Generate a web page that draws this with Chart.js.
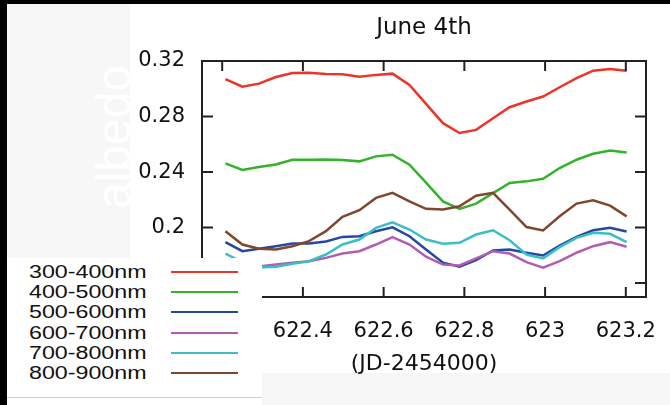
<!DOCTYPE html>
<html>
<head>
<meta charset="utf-8">
<script src="https://cdn.jsdelivr.net/npm/chart.js@4"></script>
<style>
  body { margin: 0; background: #fff; }
  #hoja { position: relative; width: 670px; height: 405px; overflow: hidden; background: #fff; }
  .caja { position: absolute; }
  #grafico { position: absolute; left: 0; top: 0; }
  #albedo { position: absolute; left: 35px; top: 113px; width: 150px; height: 48px; line-height: 48px;
    text-align: center; font: 48px "Liberation Sans", Arial, sans-serif; color: #fff; transform: rotate(-90deg); }
  #leyenda { position: absolute; left: 7px; top: 258px; width: 255px; height: 139px; background: #fff;
    border-bottom: 1px solid #cfcfcf; }
  .fila { position: absolute; left: 0; height: 20px; line-height: 20px; width: 255px; }
  .fila span { position: absolute; left: 22px; font: 18px "Liberation Sans", Arial, sans-serif; color: #111;
    transform: scaleX(1.29); transform-origin: left center; }
  .fila i { position: absolute; left: 164px; top: 9px; width: 67px; height: 2px; }
</style>
</head>
<body>
<div id="hoja">
  <div class="caja" style="left:7px;top:4px;width:123px;height:254px;background:#f7f7f7"></div>
  <div id="albedo">albedo</div>
  <div class="caja" style="left:262px;top:373px;width:408px;height:32px;background:#f6f6f6"></div>
  <canvas id="grafico" width="670" height="405"></canvas>
  <div id="leyenda"></div>
  <div class="caja" style="left:0;top:0;width:670px;height:4px;background:#000"></div>
  <div class="caja" style="left:0;top:0;width:7px;height:405px;background:#000"></div>
</div>
<script>
const tiempos = [622.208, 622.250, 622.291, 622.333, 622.374, 622.415, 622.457, 622.498, 622.540, 622.581,
  622.622, 622.664, 622.705, 622.747, 622.788, 622.829, 622.871, 622.912, 622.954, 622.995,
  623.036, 623.078, 623.119, 623.161, 623.202]

const banda300 = [0.3069, 0.3015, 0.3037, 0.3085, 0.3114, 0.3116, 0.3107, 0.3105, 0.3087, 0.3100,
  0.3109, 0.3028, 0.2891, 0.2752, 0.2681, 0.2704, 0.2788, 0.2867, 0.2908, 0.2944,
  0.3011, 0.3076, 0.3130, 0.3143, 0.3130]
const banda400 = [0.2462, 0.2415, 0.2436, 0.2455, 0.2489, 0.2489, 0.2491, 0.2487, 0.2477, 0.2513,
  0.2525, 0.2453, 0.2324, 0.2189, 0.2135, 0.2173, 0.2248, 0.2321, 0.2333, 0.2352,
  0.2429, 0.2489, 0.2532, 0.2556, 0.2541]
const banda500 = [0.1895, 0.1830, 0.1847, 0.1866, 0.1885, 0.1885, 0.1900, 0.1933, 0.1938, 0.1974,
  0.2002, 0.1938, 0.1842, 0.1747, 0.1718, 0.1765, 0.1835, 0.1842, 0.1819, 0.1799,
  0.1871, 0.1933, 0.1981, 0.1998, 0.1972]
const banda600 = [0.1720, 0.1700, 0.1720, 0.1734, 0.1747, 0.1758, 0.1782, 0.1813, 0.1830, 0.1878,
  0.1931, 0.1878, 0.1790, 0.1734, 0.1727, 0.1778, 0.1830, 0.1813, 0.1751, 0.1711,
  0.1758, 0.1819, 0.1866, 0.1895, 0.1862]
const banda700 = [0.1813, 0.1752, 0.1713, 0.1718, 0.1739, 0.1758, 0.1806, 0.1878, 0.1914, 0.1998,
  0.2038, 0.1986, 0.1914, 0.1883, 0.1890, 0.1950, 0.1981, 0.1909, 0.1806, 0.1778,
  0.1859, 0.1926, 0.1962, 0.1955, 0.1895]
const banda800 = [0.1974, 0.1878, 0.1847, 0.1842, 0.1866, 0.1902, 0.1974, 0.2077, 0.2125, 0.2214,
  0.2250, 0.2189, 0.2135, 0.2130, 0.2153, 0.2230, 0.2250, 0.2130, 0.2004, 0.1979,
  0.2081, 0.2173, 0.2196, 0.2158, 0.2081]

const nombres = ["300-400nm", "400-500nm", "500-600nm", "600-700nm", "700-800nm", "800-900nm"]
const colores = ["#ee3428", "#34b22c", "#2449a2", "#b25cb2", "#3cbec8", "#80472e"]
const series = [banda300, banda400, banda500, banda600, banda700, banda800]

const marcasX = [622.2, 622.4, 622.6, 622.8, 623, 623.2]
const marcasY = [0.16, 0.2, 0.24, 0.28, 0.32]

// leyenda aparte, tapa la esquina del grafico
const leyenda = document.getElementById("leyenda")
nombres.forEach((nombre, i) => {
    const fila = document.createElement("div")
    fila.className = "fila"
    fila.style.top = (3.7 + i * 20.3) + "px"
    fila.innerHTML = "<span>" + nombre + "</span><i style='background:" + colores[i] + "'></i>"
    leyenda.appendChild(fila)
})

// marco con marcas hacia dentro, estilo gnuplot
const marco = {
    id: "marco",
    afterDatasetsDraw(chart) {
        const { ctx, chartArea: a, scales: { x, y } } = chart
        ctx.save()
        ctx.strokeStyle = "#222"
        ctx.lineWidth = 2
        ctx.beginPath()
        x.ticks.forEach(t => {
            const px = x.getPixelForValue(t.value)
            ctx.moveTo(px, a.bottom); ctx.lineTo(px, a.bottom - 10)
            ctx.moveTo(px, a.top); ctx.lineTo(px, a.top + 10)
        })
        y.ticks.forEach(t => {
            const py = y.getPixelForValue(t.value)
            ctx.moveTo(a.left, py); ctx.lineTo(a.left + 11, py)
            ctx.moveTo(a.right, py); ctx.lineTo(a.right - 11, py)
        })
        ctx.stroke()
        ctx.strokeRect(a.left, a.top, a.right - a.left, a.bottom - a.top)
        ctx.restore()
    }
}

const fuente = "'DejaVu Sans', sans-serif"

new Chart(document.getElementById("grafico"), {
    type: "line",
    data: {
        datasets: series.map((s, i) => ({
            label: nombres[i],
            data: tiempos.map((t, j) => ({ x: t, y: s[j] })),
            borderColor: colores[i],
            borderWidth: 2.5,
            pointRadius: 0,
            tension: 0,
            order: 6 - i
        }))
    },
    options: {
        responsive: false,
        animation: false,
        devicePixelRatio: 1,
        layout: { padding: { top: 0, right: 24, bottom: 0, left: 0 } },
        plugins: {
            legend: { display: false },
            tooltip: { enabled: false },
            title: {
                display: true,
                text: "June 4th",
                fullSize: false,
                color: "#111",
                font: { family: fuente, size: 23, weight: "normal" },
                padding: { top: 14, bottom: 19.4 }
            }
        },
        scales: {
            x: {
                type: "linear",
                min: 622.15,
                max: 623.25,
                grid: { display: false, drawTicks: false },
                border: { display: false },
                afterBuildTicks: (eje) => { eje.ticks = marcasX.map(v => ({ value: v })) },
                afterFit: (eje) => {
                    eje.height = 108
                    eje.paddingLeft = 0
                    eje.paddingRight = 0
                },
                ticks: {
                    autoSkip: false,
                    maxRotation: 0,
                    padding: 22,
                    color: "#111",
                    font: { family: fuente, size: 21 },
                    callback: (v) => String(+v.toFixed(1))
                },
                title: {
                    display: true,
                    text: "(JD-2454000)",
                    color: "#111",
                    font: { family: fuente, size: 22 },
                    padding: { top: 0, bottom: 27.8 }
                }
            },
            y: {
                min: 0.15,
                max: 0.32,
                grid: { display: false, drawTicks: false },
                border: { display: false },
                afterBuildTicks: (eje) => { eje.ticks = marcasY.map(v => ({ value: v })) },
                afterFit: (eje) => {
                    eje.width = 202
                    eje.paddingTop = 0
                    eje.paddingBottom = 0
                },
                ticks: {
                    autoSkip: false,
                    padding: 17,
                    color: "#111",
                    font: { family: fuente, size: 21 },
                    callback: (v) => String(+v.toFixed(2))
                }
            }
        }
    },
    plugins: [marco]
})
</script>
</body>
</html>
